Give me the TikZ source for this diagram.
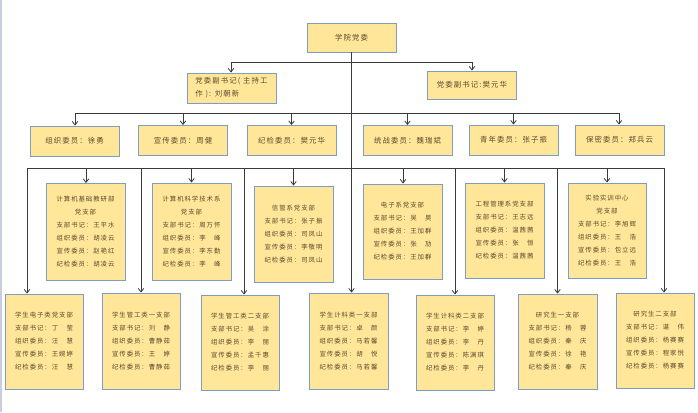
\documentclass[tikz,border=0pt]{standalone}
\usepackage{fontspec}
\usetikzlibrary{arrows.meta}
\newfontfamily\cjk[LetterSpace=15]{Noto Sans CJK SC}
\definecolor{boxfill}{HTML}{FFE699}
\definecolor{boxline}{HTML}{7F9DC3}
\definecolor{txt}{HTML}{5B4A2C}
\definecolor{wire}{HTML}{3A3A3A}
\definecolor{edge}{HTML}{C9CEDC}
\begin{document}
\begin{tikzpicture}[x=1pt,y=-1pt,
  box/.style={draw=boxline, fill=boxfill, line width=0.9pt, inner sep=0pt, text=txt, align=center},
  bigbox/.style={box, font=\cjk\fontsize{7.4}{13}\selectfont, minimum width=89pt, minimum height=29pt},
  unitbox/.style={box, font=\cjk\fontsize{6.4}{13}\selectfont, minimum width=79pt, minimum height=96pt},
  conn/.style={draw=wire, line width=0.8pt},
  arr/.style={conn, -{Straight Barb[length=3.5pt,width=5.5pt]}}]
\fill[white] (0,0) rectangle (698,412);
\useasboundingbox (0,0) rectangle (698,412);
\draw[edge, line width=1.2pt] (1,0) -- (1,412);

% top levels
\node[bigbox] (top) at (351.5,37.5) {学院党委};
\node[bigbox, align=left, minimum height=30pt] (d1) at (231.5,88) {党委副书记( 主持工\\作 ): 刘朝新};
\node[bigbox, minimum height=28pt] (d2) at (472,85) {党委副书记:樊元华};

\node[bigbox, minimum height=30pt] (c1) at (74.5,141) {组织委员：徐勇};
\node[bigbox, minimum height=30pt] (c2) at (183,140.5) {宣传委员：周健};
\node[bigbox, minimum height=30pt] (c3) at (291.5,140.5) {纪检委员：樊元华};
\node[bigbox, minimum height=30pt] (c4) at (407.5,140.5) {统战委员：魏瑞斌};
\node[bigbox, minimum height=30pt] (c5) at (513.5,140) {青年委员：张子振};
\node[bigbox, minimum height=30pt] (c6) at (619.5,140) {保密委员：郑兵云};

% middle row
\node[unitbox, minimum height=97pt] (m1) at (85.5,232) {计算机基础教研部\\党支部\\支部书记：王平水\\组织委员：胡凌云\\宣传委员：赵艳红\\纪检委员：胡凌云};
\node[unitbox, minimum height=97pt] (m2) at (191.5,231.5) {计算机科学技术系\\党支部\\支部书记：周万怀\\组织委员：李　峰\\宣传委员：李东勤\\纪检委员：李　峰};
\node[unitbox] (m3) at (293.5,234) {信管系党支部\\支部书记：张子振\\组织委员：司凤山\\宣传委员：李敬明\\纪检委员：司凤山};
\node[unitbox, minimum height=95pt] (m4) at (402.5,231.5) {电子系党支部\\支部书记：吴　昊\\组织委员：王加群\\宣传委员：张　劢\\纪检委员：王加群};
\node[unitbox, minimum height=95pt] (m5) at (504.5,230.5) {工程管理系党支部\\支部书记：王志远\\组织委员：温茜茜\\宣传委员：张　恒\\纪检委员：温茜茜};
\node[unitbox, minimum width=78pt, minimum height=95pt] (m6) at (607,230.5) {实验实训中心\\党支部\\支部书记：李旭辉\\组织委员：王　浩\\宣传委员：包立远\\纪检委员：王　浩};

% bottom row
\node[unitbox, minimum width=78pt, minimum height=95pt] (b1) at (44,341.5) {学生电子类党支部\\支部书记：丁　莹\\组织委员：汪　慧\\宣传委员：王婉婷\\纪检委员：汪　慧};
\node[unitbox, minimum width=78pt, minimum height=96pt] (b2) at (141,341) {学生管工类一支部\\支部书记：刘　静\\组织委员：曹静茹\\宣传委员：王　婷\\纪检委员：曹静茹};
\node[unitbox, minimum width=78pt, minimum height=95pt] (b3) at (240,342.5) {学生管工类二支部\\支部书记：吴　涂\\组织委员：李　丽\\宣传委员：孟千惠\\纪检委员：李　丽};
\node[unitbox, minimum height=96pt] (b4) at (348.5,341) {学生计科类一支部\\支部书记：卓　颜\\组织委员：马若馨\\宣传委员：胡　悦\\纪检委员：马若馨};
\node[unitbox, minimum width=78pt, minimum height=95pt] (b5) at (455,342.5) {学生计科类二支部\\支部书记：李　婷\\组织委员：李　丹\\宣传委员：陈渊琪\\纪检委员：李　丹};
\node[unitbox, minimum width=79pt, minimum height=95pt] (b6) at (557.5,341.5) {研究生一支部\\支部书记：杨　蓉\\组织委员：秦　庆\\宣传委员：徐　艳\\纪检委员：秦　庆};
\node[unitbox, minimum width=78pt, minimum height=95pt] (b7) at (655,340.5) {研究生二支部\\支部书记：谌　伟\\组织委员：杨赛赛\\宣传委员：程家悦\\纪检委员：杨赛赛};

% coordinates of buses
\coordinate (t3) at (351.5,168);
\coordinate (a1) at (231,62);
\coordinate (a2) at (472,62);
\coordinate (k1) at (75,113);
\coordinate (k2) at (183,113);
\coordinate (k3) at (291.5,113);
\coordinate (k4) at (407.5,113);
\coordinate (k5) at (513.5,113);
\coordinate (k6) at (619,113);
\coordinate (u1) at (86,168);
\coordinate (u2) at (191.5,168);
\coordinate (u3) at (293.5,168);
\coordinate (u4) at (403,168);
\coordinate (u5) at (504.5,168);
\coordinate (u6) at (607,168);
\coordinate (v1) at (27,168);
\coordinate (v2) at (141,168);
\coordinate (v3) at (244,168);
\coordinate (v5) at (455,168);
\coordinate (v6) at (557.5,168);
\coordinate (v7) at (664,168);

% trunk and buses
\draw[conn] (top.south) -- (t3);
\draw[conn] (a1) -- (a2);
\draw[conn] (k1) -- (k6);
\draw[conn] (v1) -- (v7);

% arrows
\draw[arr] (a1) -- (a1 |- d1.north);
\draw[arr] (a2) -- (a2 |- d2.north);
\foreach \k/\c in {k1/c1,k2/c2,k3/c3,k4/c4,k5/c5,k6/c6}
  \draw[arr] (\k) -- (\k |- \c.north);
\foreach \u/\m in {u1/m1,u2/m2,u3/m3,u4/m4,u5/m5,u6/m6}
  \draw[arr] (\u) -- (\u |- \m.north);
\foreach \v/\b in {v1/b1,v2/b2,v3/b3,t3/b4,v5/b5,v6/b6,v7/b7}
  \draw[arr] (\v) -- (\v |- \b.north);
\end{tikzpicture}
\end{document}
